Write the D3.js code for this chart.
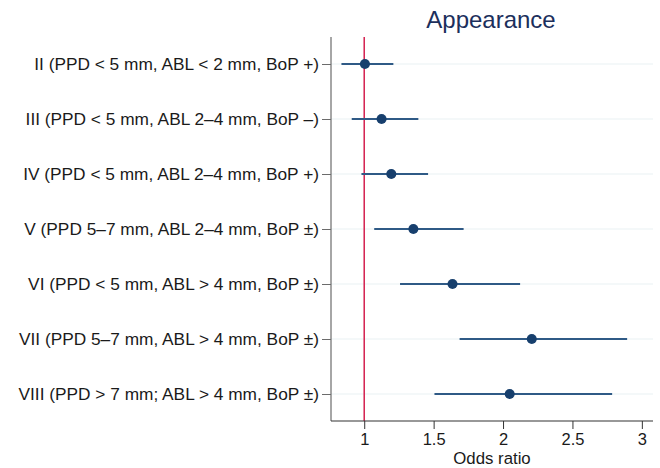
<!DOCTYPE html>
<html><head><meta charset="utf-8">
<script src="https://cdn.jsdelivr.net/npm/d3@7"></script>
<style>html,body{margin:0;padding:0;background:#fff;}svg{display:block;font-family:"Liberation Sans",Arial,sans-serif;}</style>
</head><body>
<svg id="chart" width="660" height="468"></svg>
<script>
const categories = [
  "II (PPD < 5 mm, ABL < 2 mm, BoP +)",
  "III (PPD < 5 mm, ABL 2\u20134 mm, BoP \u2013)",
  "IV (PPD < 5 mm, ABL 2\u20134 mm, BoP +)",
  "V (PPD 5\u20137 mm, ABL 2\u20134 mm, BoP \u00b1)",
  "VI (PPD < 5 mm, ABL > 4 mm, BoP \u00b1)",
  "VII (PPD 5\u20137 mm, ABL > 4 mm, BoP \u00b1)",
  "VIII (PPD > 7 mm; ABL > 4 mm, BoP \u00b1)"
];
const oddsRatio = [1.005, 1.125, 1.195, 1.354, 1.636, 2.207, 2.048];
const ciLow     = [0.836, 0.91, 0.98, 1.072, 1.258, 1.687, 1.506];
const ciHigh    = [1.21, 1.39, 1.46, 1.716, 2.123, 2.894, 2.786];
const xTicks = [1, 1.5, 2, 2.5, 3];
const xTickLabels = ["1", "1.5", "2", "2.5", "3"];
const refValue = 1;
const title = "Appearance";
const xTitle = "Odds ratio";

(function () {
const svg = d3.select("#chart");
const pL = 331, pR = 653, pT = 37, pB = 421;
const x = d3.scaleLinear().domain([0.7607, 3.0803]).range([pL, pR]);
const y = d3.scalePoint().domain(categories).range([64, 394]);

// gridlines
svg.append("g").selectAll("line").data(categories).join("line")
  .attr("x1", pL).attr("x2", pR)
  .attr("y1", d => y(d)).attr("y2", d => y(d))
  .attr("stroke", "#eaf1f3").attr("stroke-width", 1.2);

// reference line
svg.append("line")
  .attr("x1", x(refValue)).attr("x2", x(refValue))
  .attr("y1", pT).attr("y2", pB)
  .attr("stroke", "#d41f4f").attr("stroke-width", 1.5);

// CIs
const rows = categories.map((c, i) => ({c, or: oddsRatio[i], lo: ciLow[i], hi: ciHigh[i]}));
svg.append("g").selectAll("line").data(rows).join("line")
  .attr("x1", d => x(d.lo)).attr("x2", d => x(d.hi))
  .attr("y1", d => y(d.c)).attr("y2", d => y(d.c))
  .attr("stroke", "#2f5a86").attr("stroke-width", 2);

svg.append("g").selectAll("circle").data(rows).join("circle")
  .attr("cx", d => x(d.or)).attr("cy", d => y(d.c)).attr("r", 5)
  .attr("fill", "#173f6d");

// y axis
const yAxis = svg.append("g").attr("transform", `translate(${pL},0)`)
  .call(d3.axisLeft(y).tickSize(9).tickPadding(3));
yAxis.select(".domain").attr("d", `M0,${pT}V${pB}`).attr("stroke", "#6b6b6b").attr("stroke-width", 1.2);
yAxis.selectAll(".tick line").attr("stroke", "#6b6b6b");
yAxis.selectAll(".tick text").attr("font-size", 17.3).attr("fill", "#1a1a1a")
  .attr("font-family", "'Liberation Sans', Arial, sans-serif");

// x axis
const xAxis = svg.append("g").attr("transform", `translate(0,${pB})`)
  .call(d3.axisBottom(x).tickValues(xTicks).tickFormat((d, i) => xTickLabels[i]).tickSize(8).tickPadding(4.5));
xAxis.select(".domain").attr("d", `M${pL},0H${pR}`).attr("stroke", "#333").attr("stroke-width", 1.2);
xAxis.selectAll(".tick line").attr("stroke", "#333");
xAxis.selectAll(".tick text").attr("font-size", 16.5).attr("fill", "#1a1a1a")
  .attr("font-family", "'Liberation Sans', Arial, sans-serif");

svg.append("text").attr("x", 492).attr("y", 464.3)
  .attr("text-anchor", "middle").attr("font-size", 16.8).attr("fill", "#1a1a1a")
  .text(xTitle);

svg.append("text").attr("x", 491).attr("y", 28)
  .attr("text-anchor", "middle").attr("font-size", 24).attr("fill", "#1c2f5c")
  .text(title);
})();
</script>
</body></html>
